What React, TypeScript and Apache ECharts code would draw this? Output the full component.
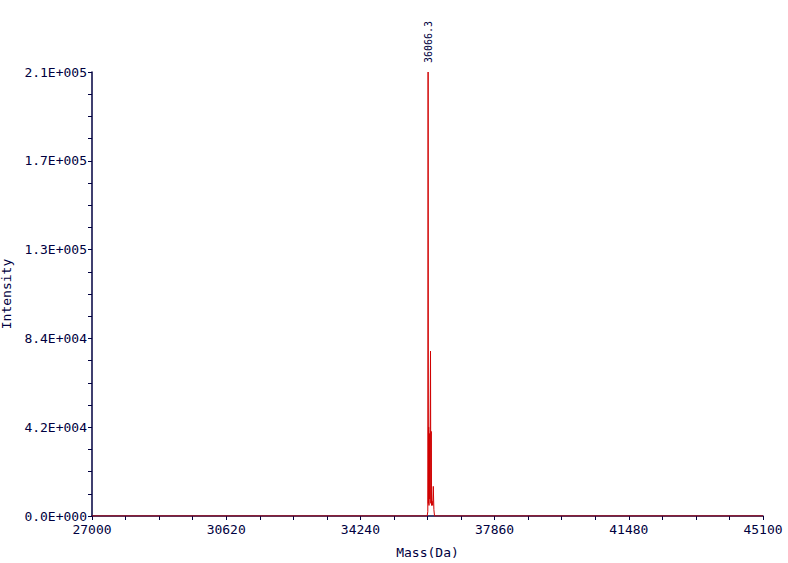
import React, { useEffect, useRef } from "react";
import * as echarts from "echarts";

// Spectrum data (mass in Da, intensity in counts)
const masses = [27000, 36040, 36058, 36066.3, 36074, 36082, 36090, 36100, 36110, 36120, 36131, 36140, 36150, 36158, 36172, 36190, 36206, 36222, 36240, 45100];
const intensities = [0, 0, 2000, 210000, 6000, 42000, 5000, 39000, 8000, 41000, 78000, 6000, 40000, 5000, 7000, 5000, 14000, 3000, 0, 0];

// Axis settings
const X_MIN = 27000;
const X_MAX = 45100;
const X_STEP = 3620;
const Y_MAX = 210000;
const Y_STEP = 42000;
const PEAK_MASS = 36066.3;
const PEAK_INTENSITY = 210000;
const PEAK_LABEL = "36066.3";

const NAVY = "#000040";
const FONT = "DejaVu Sans Mono";

function sci(v: number): string {
  if (v === 0) return "0.0E+000";
  const e = Math.floor(Math.log10(Math.abs(v)));
  let ms = (v / Math.pow(10, e)).toFixed(1);
  let ee = e;
  if (parseFloat(ms) >= 10) {
    ee = e + 1;
    ms = (v / Math.pow(10, ee)).toFixed(1);
  }
  const sign = ee < 0 ? "-" : "+";
  return ms + "E" + sign + String(Math.abs(ee)).padStart(3, "0");
}

export default function App() {
  const ref = useRef<HTMLDivElement>(null);
  useEffect(() => {
    if (!ref.current) return;
    const chart = echarts.init(ref.current, undefined, { renderer: "svg" });
    const data = masses.map((m, i) => [m - X_MIN, intensities[i]]);
    chart.setOption({
      animation: false,
      backgroundColor: "#ffffff",
      grid: {
        left: 92,
        right: 25,
        top: 72,
        bottom: 47,
        containLabel: false,
        outerBoundsMode: "none",
      },
      xAxis: {
        type: "value",
        min: 0,
        max: X_MAX - X_MIN,
        interval: X_STEP,
        name: "Mass(Da)",
        nameLocation: "middle",
        nameGap: 30,
        nameTextStyle: { fontFamily: FONT, fontSize: 13, color: NAVY },
        axisLine: { show: true, lineStyle: { color: NAVY, width: 1.5 } },
        axisTick: { show: true, length: 4, inside: false, lineStyle: { color: NAVY } },
        minorTick: { show: true, splitNumber: 4, length: 4, lineStyle: { color: NAVY } },
        splitLine: { show: false },
        minorSplitLine: { show: false },
        axisLabel: {
          fontFamily: FONT,
          fontSize: 13,
          color: NAVY,
          margin: 7,
          formatter: (v: number) => String(Math.round(v + X_MIN)),
        },
      },
      yAxis: {
        type: "value",
        min: 0,
        max: Y_MAX,
        interval: Y_STEP,
        name: "Intensity",
        nameLocation: "middle",
        nameGap: 78,
        nameRotate: 90,
        nameTextStyle: { fontFamily: FONT, fontSize: 13, color: NAVY },
        axisLine: { show: true, lineStyle: { color: NAVY, width: 1.5 } },
        axisTick: { show: true, length: 4, inside: false, lineStyle: { color: NAVY } },
        minorTick: { show: true, splitNumber: 4, length: 4, lineStyle: { color: NAVY } },
        splitLine: { show: false },
        minorSplitLine: { show: false },
        axisLabel: {
          fontFamily: FONT,
          fontSize: 13,
          color: NAVY,
          margin: 5,
          formatter: (v: number) => sci(v),
        },
      },
      series: [
        {
          type: "line",
          data,
          showSymbol: false,
          symbol: "none",
          lineStyle: { color: "#d00000", width: 1 },
          itemStyle: { color: "#d00000" },
          z: 5,
          markPoint: {
            symbol: "circle",
            symbolSize: 0,
            silent: true,
            data: [
              {
                coord: [PEAK_MASS - X_MIN, PEAK_INTENSITY],
                label: {
                  show: true,
                  formatter: PEAK_LABEL,
                  position: "top",
                  distance: 9,
                  rotate: 90,
                  align: "left",
                  verticalAlign: "middle",
                  fontFamily: FONT,
                  fontSize: 10,
                  color: NAVY,
                },
              },
            ],
          },
        },
      ],
    });
    return () => chart.dispose();
  }, []);
  return (
    <div
      ref={ref}
      style={{ position: "fixed", left: 0, top: 0, width: 788, height: 563 }}
    />
  );
}
